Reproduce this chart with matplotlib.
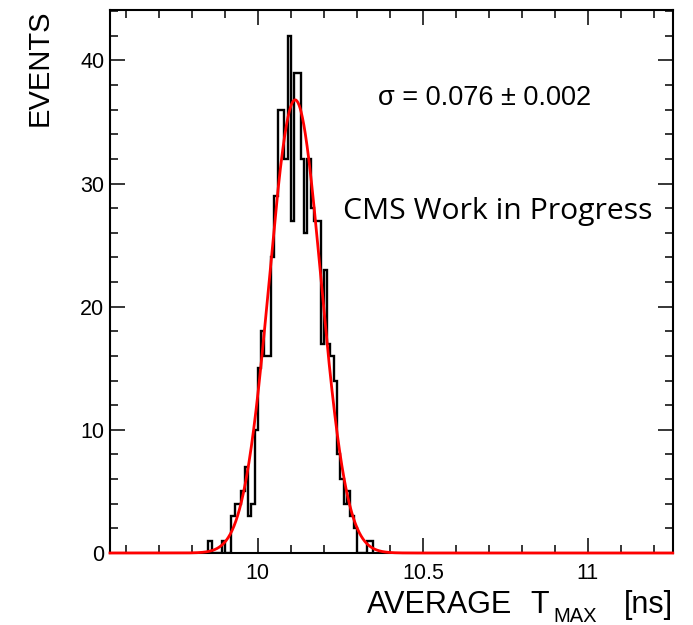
import numpy as np
import matplotlib
matplotlib.use("Agg")
import matplotlib.pyplot as plt
from matplotlib.ticker import MultipleLocator, FixedLocator, FixedFormatter

# ---- data ----
bin_width = 0.01
first_bin_low = 9.85
counts = [1, 0, 0, 0, 1, 0, 0, 3, 4, 4,
          5, 7, 3, 4, 10, 15, 18, 16, 16, 24,
          29, 36, 36, 32, 42, 27, 39, 39, 32, 26,
          32, 28, 27, 27, 17, 23, 17, 16, 14, 8,
          6, 4, 5, 3, 2, 0, 0, 0, 1, 1]
fit_amp = 36.8
fit_mean = 10.113
fit_sigma = 0.078
x_range = (9.552, 11.257)
y_range = (0, 44.1)
x_major = [10, 10.5, 11]
x_major_labels = ["10", "10.5", "11"]
y_major = [0, 10, 20, 30, 40]
y_major_labels = ["0", "10", "20", "30", "40"]
sigma_text = "σ = 0.076 ± 0.002"
cms_text = "CMS Work in Progress"

W, H = 693, 625
fig = plt.figure(figsize=(W / 100, H / 100), dpi=100)
ax = fig.add_axes([110 / W, 1 - 553 / H, (672.7 - 110) / W, (553 - 10) / H])

counts = np.array(counts, dtype=float)
edges = first_bin_low + bin_width * np.arange(len(counts) + 1)
ax.stairs(counts, edges, color="black", lw=1.7, baseline=0)

xs = np.linspace(x_range[0], x_range[1], 1200)
ys = fit_amp * np.exp(-0.5 * ((xs - fit_mean) / fit_sigma) ** 2)
ax.plot(xs, ys, color="#ff0000", lw=2.0, zorder=3, clip_on=False)

ax.set_xlim(*x_range)
ax.set_ylim(*y_range)

ax.xaxis.set_major_locator(FixedLocator(x_major))
ax.xaxis.set_major_formatter(FixedFormatter(x_major_labels))
ax.xaxis.set_minor_locator(MultipleLocator(0.1))
ax.yaxis.set_major_locator(FixedLocator(y_major))
ax.yaxis.set_major_formatter(FixedFormatter(y_major_labels))
ax.yaxis.set_minor_locator(MultipleLocator(2))

ax.tick_params(which="both", direction="in", top=True, right=True, width=1.1, colors="black")
ax.tick_params(which="major", length=11)
ax.tick_params(which="minor", length=5.5)
ax.tick_params(axis="x", which="major", pad=7)
ax.tick_params(axis="y", which="major", pad=4)
for lab in ax.get_xticklabels() + ax.get_yticklabels():
    lab.set_fontfamily("Liberation Sans")
    lab.set_fontsize(15.5)
for sp in ax.spines.values():
    sp.set_linewidth(1.5)

def ftext(x, y, s, **kw):
    return fig.text(x / W, 1 - y / H, s, **kw)

ftext(378, 98, sigma_text, family="Liberation Sans", fontsize=19.5, ha="left", va="center")
ftext(343, 211, cms_text, family="Open Sans", fontsize=21.7, ha="left", va="center")

ftext(40, 10, "EVENTS", family="Liberation Sans", fontsize=21, rotation=90, ha="center", va="top")

ftext(367, 613, "AVERAGE", family="Liberation Sans", fontsize=22, ha="left", va="baseline")
ftext(530, 613, "T", family="Liberation Sans", fontsize=22, ha="left", va="baseline")
ftext(553, 622, "MAX", family="Liberation Sans", fontsize=14.5, ha="left", va="baseline")
ftext(673, 613, "[ns]", family="Liberation Sans", fontsize=22, ha="right", va="baseline")

fig.savefig("out.png", dpi=100)
